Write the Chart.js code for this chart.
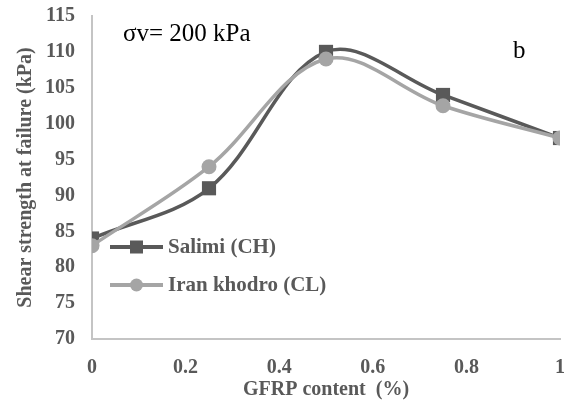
<!DOCTYPE html>
<html>
<head>
<meta charset="utf-8">
<script src="https://cdn.jsdelivr.net/npm/chart.js@4.4.1/dist/chart.umd.min.js"></script>
<style>
  html, body { margin: 0; padding: 0; background: #ffffff; }
  #wrap { width: 571px; height: 402px; position: relative; }
</style>
</head>
<body>
<div id="wrap"><canvas id="c"></canvas></div>
<script>
// GFRP content (%) and shear strength at failure (kPa), sigma_v = 200 kPa
const gfrpContent = [0, 0.25, 0.5, 0.75, 1];
const salimiCH = [84, 91, 110, 104, 98];
const iranKhodroCL = [83, 94, 109, 102.5, 98];
const seriesNames = ['Salimi (CH)', 'Iran khodro (CL)'];
const xTitle = 'GFRP content  (%)';
const yTitle = 'Shear strength at failure (kPa)';
const stressLabel = '\u03C3v= 200 kPa';
const panelLabel = 'b';

const darkGray = '#595959';
const lightGray = '#A5A5A5';
const axisGray = '#C4C4C4';
const serif = '"Liberation Serif", "Times New Roman", serif';

const toPoints = vals => gfrpContent.map((x, i) => ({ x: x, y: vals[i] }));

// Legend drawn inside the plot area, below the curves on the left
const insideLegend = {
  id: 'insideLegend',
  afterDraw(chart) {
    const ctx = chart.ctx;
    const area = chart.chartArea;
    const x0 = area.left + 18;
    const lineLen = 53;
    const rows = [area.top + 231, area.top + 269];
    chart.data.datasets.forEach((ds, i) => {
      const y = rows[i];
      const cx = x0 + lineLen / 2;
      ctx.save();
      ctx.strokeStyle = ds.borderColor;
      ctx.lineWidth = 4;
      ctx.beginPath();
      ctx.moveTo(x0, y);
      ctx.lineTo(x0 + lineLen, y);
      ctx.stroke();
      ctx.fillStyle = ds.backgroundColor;
      if (ds.pointStyle === 'rect') {
        const s = 13;
        ctx.fillRect(cx - s / 2, y - s / 2, s, s);
      } else {
        ctx.beginPath();
        ctx.arc(cx, y, 6.5, 0, Math.PI * 2);
        ctx.fill();
      }
      ctx.fillStyle = darkGray;
      ctx.font = 'bold 21px ' + serif;
      ctx.textAlign = 'left';
      ctx.textBaseline = 'middle';
      ctx.fillText(ds.label, x0 + lineLen + 5, y + 1);
      ctx.restore();
    });
  }
};

// Free text labels placed in the plot area
const plotNotes = {
  id: 'plotNotes',
  afterDraw(chart) {
    const ctx = chart.ctx;
    const area = chart.chartArea;
    ctx.save();
    ctx.fillStyle = '#000000';
    ctx.font = '25px ' + serif;
    ctx.textBaseline = 'alphabetic';
    ctx.textAlign = 'left';
    ctx.fillText(stressLabel, area.left + 31, area.top + 25);
    ctx.fillText(panelLabel, area.left + 421, area.top + 42);
    ctx.restore();
  }
};

new Chart(document.getElementById('c'), {
  type: 'line',
  data: {
    datasets: [
      {
        label: seriesNames[0],
        data: toPoints(salimiCH),
        borderColor: darkGray,
        backgroundColor: darkGray,
        borderWidth: 3.5,
        pointStyle: 'rect',
        pointRadius: 10,
        pointBorderWidth: 0,
        pointHoverRadius: 10,
        tension: 0.35,
        order: 2
      },
      {
        label: seriesNames[1],
        data: toPoints(iranKhodroCL),
        borderColor: lightGray,
        backgroundColor: lightGray,
        borderWidth: 3.5,
        pointStyle: 'circle',
        pointRadius: 7.5,
        pointBorderWidth: 0,
        pointHoverRadius: 7.5,
        tension: 0.35,
        order: 1
      }
    ]
  },
  options: {
    responsive: true,
    maintainAspectRatio: false,
    animation: false,
    events: [],
    layout: { padding: 0 },
    plugins: {
      legend: { display: false },
      tooltip: { enabled: false }
    },
    scales: {
      x: {
        type: 'linear',
        min: 0,
        max: 1,
        ticks: {
          stepSize: 0.2,
          color: darkGray,
          font: { family: serif, size: 20, weight: 'bold' },
          padding: 17,
          maxRotation: 0,
          callback: v => String(Math.round(v * 10) / 10)
        },
        grid: { drawOnChartArea: false, drawTicks: false },
        border: { display: true, color: axisGray, width: 2 },
        title: {
          display: true,
          text: xTitle,
          color: darkGray,
          font: { family: serif, size: 20, weight: 'bold' },
          padding: { top: 0, bottom: 0 }
        },
        afterFit(scale) {
          scale.height = 63;
          scale.paddingLeft = 0;
          scale.paddingRight = 11;
        }
      },
      y: {
        min: 70,
        max: 115,
        ticks: {
          stepSize: 5,
          color: darkGray,
          font: { family: serif, size: 20, weight: 'bold' },
          padding: 17
        },
        grid: { drawOnChartArea: false, drawTicks: false },
        border: { display: true, color: axisGray, width: 2 },
        title: {
          display: true,
          text: yTitle,
          color: darkGray,
          font: { family: serif, size: 20, weight: 'bold' },
          padding: { top: 14, bottom: 0 }
        },
        afterFit(scale) {
          scale.width = 92;
          scale.paddingTop = 16;
          scale.paddingBottom = 0;
        }
      }
    }
  },
  plugins: [insideLegend, plotNotes]
});
</script>
</body>
</html>
